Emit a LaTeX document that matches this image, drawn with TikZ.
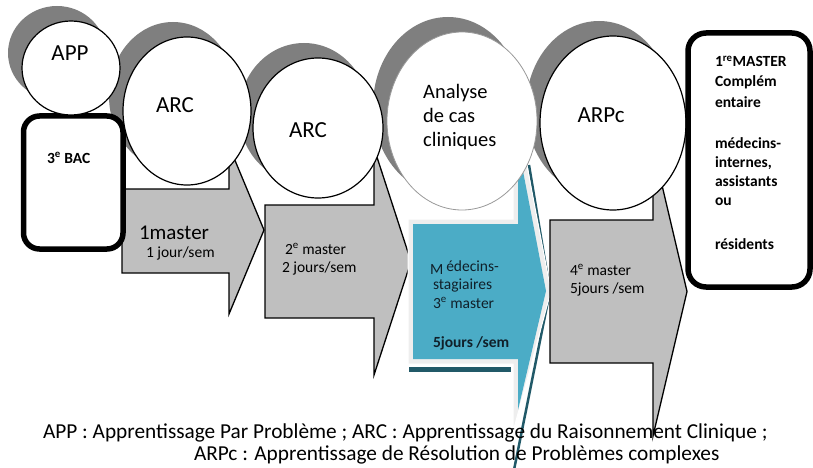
\documentclass[tikz,border=0pt]{standalone}
\usepackage{fontspec}
\setmainfont{Carlito}
\usetikzlibrary{shapes.geometric}
\definecolor{shadowgray}{HTML}{7F7F7F}
\definecolor{arrowgray}{HTML}{BFBFBF}
\definecolor{stageblue}{HTML}{4BACC6}
\definecolor{stagedark}{HTML}{215968}
\definecolor{stagelight}{HTML}{EEEEEE}
\definecolor{bluetext}{HTML}{10202A}
\tikzset{
  bubble/.style n args={2}{ellipse, minimum width=#1, minimum height=#2, inner sep=0pt, outer sep=0pt},
  bubbleshadow/.style={fill=shadowgray},
  bubbleface/.style={fill=white, draw=black, line width=1.2pt},
  stepshape/.style={fill=arrowgray, draw=black, line width=1.3pt, line join=miter},
  levelbox/.style={draw=black, line width=5.5pt, fill=white, rounded corners=16pt},
  txt/.style={inner sep=0pt, outer sep=0pt, anchor=base west},
  bubbletxt/.style={inner sep=0pt, font=\fontsize{23}{27}\selectfont},
  smalltxt/.style={txt, font=\fontsize{15.5}{19}\selectfont},
  boldtxt/.style={txt, font=\fontsize{15.5}{19}\selectfont\bfseries},
  legendtxt/.style={txt, font=\fontsize{21.3}{22}\selectfont},
}
\begin{document}
\begin{tikzpicture}[x=1pt, y=-1pt]
\useasboundingbox (0,0) rectangle (813,468);

% drop shadows of the bubbles
\node[bubble={98pt}{94pt}, bubbleshadow] (appsh) at (57,53) {};
\node[bubble={128pt}{148pt}, bubbleshadow] (arcash) at (173,96) {};
\node[bubble={130pt}{140pt}, bubbleshadow] (arcbsh) at (304,113) {};
\node[bubble={150pt}{178pt}, bubbleshadow] (casesh) at (448,106) {};
\node[bubble={146pt}{174pt}, bubbleshadow] (arpcsh) at (599,108) {};

% grey step arrows
\draw[stepshape] (122,189) -- (229,189) -- (229,146) -- (264,230) -- (229,314) -- (229,273) -- (122,273) -- cycle;
\draw[stepshape] (265,205) -- (374,205) -- (374,148) -- (411,261.5) -- (374,375) -- (374,318) -- (265,318) -- cycle;

% highlighted blue step with its rim and dark edge
\draw[stagedark, line width=5pt] (409,369.5) -- (511,369.5);
\draw[stagedark, line width=2.5pt, line join=miter] (529,165) -- (550,291) -- (513,475);
\fill[stagelight, draw=white, line width=1pt] (408,219) -- (513,219) -- (513,93) -- (551,291) -- (513,432) -- (513,364) -- (408,364) -- cycle;
\fill[stageblue] (413,224) -- (518,224) -- (518,145) -- (546,291) -- (518,410) -- (518,359) -- (413,359) -- cycle;

\draw[stepshape] (550,220) -- (653,220) -- (653,147) -- (687,291.5) -- (653,436) -- (653,363) -- (550,363) -- cycle;

% level box on the left
\draw[levelbox] (23.5,116) rectangle (123,249);

% bubbles
\node[bubble={98pt}{94pt}, bubbleface] (app) at (71,68) {};
\node[bubble={128pt}{148pt}, bubbleface] (arca) at (187,111) {};
\node[bubble={130pt}{140pt}, bubbleface] (arcb) at (318,128) {};
\node[bubble={150pt}{178pt}, fill=white, draw=black!40, line width=0.8pt] (cases) at (462,121) {};
\node[bubble={146pt}{174pt}, bubbleface] (arpc) at (613,123) {};

% level box on the right
\draw[levelbox, rounded corners=18pt] (688,33) rectangle (810,287);

% bubble labels
\node[bubbletxt] (applbl) at (70,53) {APP};
\node[bubbletxt] (arcalbl) at (175,105) {ARC};
\node[bubbletxt] (arcblbl) at (308,130) {ARC};
\node[bubbletxt] (arpclbl) at (601,115) {ARPc};
\node[inner sep=0pt, anchor=west, align=left, font=\fontsize{20.5}{24}\selectfont] (caselbl) at (423,117) {Analyse\\de cas\\cliniques};

% texts in the left box
\node[boldtxt] (bac) at (47,163) {3\textsuperscript{e} BAC};

% texts in the step arrows
\node[txt, font=\fontsize{21}{25}\selectfont] (m1a) at (139,239) {1master};
\node[smalltxt] (m1b) at (146,257) {1 jour/sem};
\node[smalltxt] (m2a) at (285,254) {2\textsuperscript{e} master};
\node[smalltxt] (m2b) at (282,272) {2 jours/sem};
\node[smalltxt, text=bluetext] (m3a) at (430,271) {\raisebox{-3pt}{M}\hspace{3pt}édecins-};
\node[smalltxt, text=bluetext] (m3b) at (433,289) {stagiaires};
\node[smalltxt, text=bluetext] (m3c) at (433,308) {3\textsuperscript{e} master};
\node[boldtxt, text=bluetext] (m3d) at (433,347) {5jours /sem};
\node[smalltxt] (m4a) at (570,275) {4\textsuperscript{e} master};
\node[smalltxt] (m4b) at (570,293) {5jours /sem};

% texts in the right box
\node[boldtxt] (r1) at (715,67) {1\textsuperscript{re}MASTER};
\node[boldtxt] (r2) at (715,87) {Complém};
\node[boldtxt] (r3) at (715,107) {entaire};
\node[boldtxt] (r4) at (715,148) {médecins-};
\node[boldtxt] (r5) at (715,167) {internes,};
\node[boldtxt] (r6) at (715,186) {assistants};
\node[boldtxt] (r7) at (715,205) {ou};
\node[boldtxt] (r8) at (715,249) {résidents};

% legend
\node[legendtxt] (leg1) at (43,438) {APP : Apprentissage Par Problème ; ARC : Apprentissage du Raisonnement Clinique ;};
\node[legendtxt] (leg2) at (194,460) {ARPc : Apprentissage de Résolution de Problèmes complexes};
\end{tikzpicture}
\end{document}
